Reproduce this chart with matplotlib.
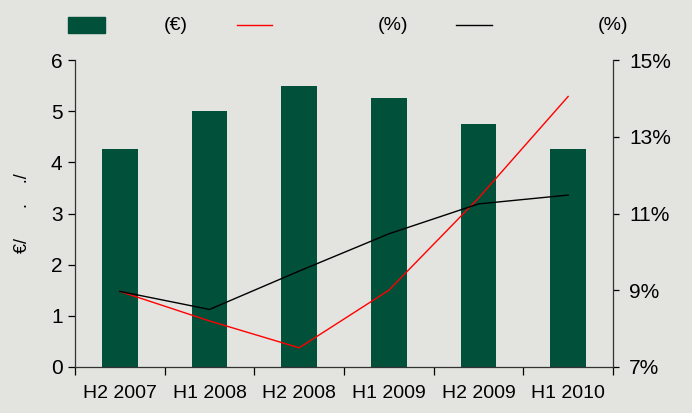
import matplotlib
matplotlib.use("Agg")
import matplotlib.pyplot as plt
from matplotlib.lines import Line2D
from matplotlib.patches import Rectangle

periods = ["H2 2007", "H1 2008", "H2 2008", "H1 2009", "H2 2009", "H1 2010"]
price = [4.27, 5.0, 5.5, 5.25, 4.75, 4.27]
red_pct = [8.97, 8.2, 7.5, 9.0, 11.4, 14.05]
black_pct = [8.97, 8.5, 9.5, 10.47, 11.25, 11.48]

BG = "#e3e3df"
GREEN = "#00503a"

plt.rcParams["font.family"] = ["Liberation Sans", "DejaVu Sans"]

fig = plt.figure(figsize=(6.92, 4.13), dpi=100, facecolor=BG)
ax = fig.add_axes([0.1084, 0.1114, 0.7774, 0.7433], facecolor=BG)
ax2 = ax.twinx()

x = range(len(periods))
ax.bar(x, price, width=0.4, color=GREEN, zorder=2)
ax.set_ylim(0, 6)
ax.set_xlim(-0.5, len(periods) - 0.5)
ax.set_yticks(range(0, 7))
ax.set_xticks(list(x))
ax.set_xticklabels(periods)
ax.set_xticks([i - 0.5 for i in range(len(periods) + 1)], minor=True)
ax.tick_params(axis="x", which="major", length=0, pad=13, labelsize=14)
ax.tick_params(axis="x", which="minor", length=6, direction="out", width=0.9)
ax.tick_params(axis="y", length=5, direction="out", width=0.9, labelsize=15, pad=4)
ax.set_ylabel("€/      .    ./", fontsize=13, labelpad=14)

ax2.plot(x, red_pct, color="#ff0000", lw=1.0, zorder=3)
ax2.plot(x, black_pct, color="black", lw=1.0, zorder=3)
ax2.set_ylim(7, 15)
ax2.set_yticks([7, 9, 11, 13, 15])
ax2.set_yticklabels([f"{v}%" for v in [7, 9, 11, 13, 15]])
ax2.tick_params(axis="y", length=4.5, direction="out", width=0.9, labelsize=15, pad=7)

for a in (ax, ax2):
    a.spines["top"].set_visible(False)
    for s in ("left", "right", "bottom"):
        a.spines[s].set_color("#333333")
        a.spines[s].set_linewidth(0.9)
ax.spines["right"].set_visible(False)
ax2.spines["left"].set_visible(False)
ax2.spines["bottom"].set_visible(False)

# legend row drawn in figure pixels
W, H = 692, 413
def fx(px):
    return px / W
def fy(py):
    return 1 - py / H

fig.patches.append(Rectangle((fx(68), fy(33)), fx(105) - fx(68), fy(17) - fy(33),
                             transform=fig.transFigure, color=GREEN))
fig.text(fx(164), fy(25), "(€)", fontsize=14, va="center")
fig.lines.append(Line2D([fx(237), fx(272)], [fy(25), fy(25)],
                        transform=fig.transFigure, color="#ff0000", lw=1.0))
fig.text(fx(378), fy(25), "(%)", fontsize=14, va="center")
fig.lines.append(Line2D([fx(456), fx(492)], [fy(25), fy(25)],
                        transform=fig.transFigure, color="black", lw=1.0))
fig.text(fx(598), fy(25), "(%)", fontsize=14, va="center")

fig.savefig("out.png", dpi=100, facecolor=BG)
